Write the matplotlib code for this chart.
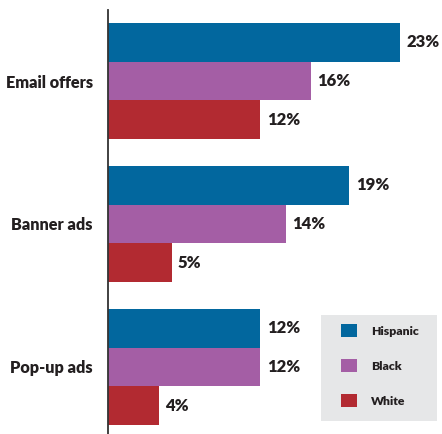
import matplotlib
matplotlib.use("Agg")
import matplotlib.pyplot as plt
from matplotlib.patches import Rectangle, Patch
import numpy as np

categories = ["Email offers", "Banner ads", "Pop-up ads"]
series = ["Hispanic", "Black", "White"]
values = {
    "Hispanic": [23, 19, 12],
    "Black": [16, 14, 12],
    "White": [12, 5, 4],
}
colors = {"Hispanic": "#02679e", "Black": "#a45ea5", "White": "#b22a31"}

plt.rcParams["font.family"] = ["Lato", "DejaVu Sans"]
text_color = "#231f20"

W, H, DPI = 442, 434, 100
fig = plt.figure(figsize=(W / DPI, H / DPI), dpi=DPI)
# axes box in pixels: left 108, right 438, top 10, bottom 434
ax = fig.add_axes([108 / W, 0 / H, (438 - 108) / W, (434 - 10) / H])

bar_h = 0.27
group_pos = np.arange(len(categories))
offsets = [-bar_h, 0, bar_h]

for s, off in zip(series, offsets):
    vals = values[s]
    bars = ax.barh(group_pos + off, vals, height=bar_h, color=colors[s],
                   label=s, linewidth=0)
    for b, v in zip(bars, vals):
        ax.text(b.get_width() + 0.5, b.get_y() + b.get_height() / 2, f"{v}%",
                va="center", ha="left", fontsize=12, fontweight="heavy",
                color=text_color)

ax.set_xlim(0, (438 - 108) / 12.7)
ax.set_ylim((434 - 81) / 143, -71 / 143)
ax.set_yticks(group_pos)
ax.set_yticklabels(categories, fontsize=11.7, fontweight="heavy", color=text_color)
ax.tick_params(axis="y", length=0, pad=11)
ax.set_xticks([])
for side in ["top", "right", "bottom"]:
    ax.spines[side].set_visible(False)
ax.spines["left"].set_color("#333333")
ax.spines["left"].set_linewidth(1.3)

# legend panel
panel = Rectangle((321 / W, 1 - 421 / H), (437 - 321) / W, (421 - 315) / H,
                  transform=fig.transFigure, facecolor="#e6e7e8",
                  edgecolor="none", zorder=2)
fig.patches.append(panel)
fs = 8.8
px = fs * DPI / 72
handles = [Patch(facecolor=colors[s], edgecolor="none") for s in series]
leg = fig.legend(handles, series, loc="upper left",
                 bbox_to_anchor=(341 / W, 1 - 324 / H),
                 frameon=False, prop={"weight": "heavy", "size": fs},
                 handlelength=16 / px, handleheight=16 / px,
                 labelspacing=(37.5 - 16) / px,
                 handletextpad=(371 - 357) / px,
                 borderpad=0, borderaxespad=0)
for t in leg.get_texts():
    t.set_color(text_color)
leg.set_zorder(3)

fig.savefig("out.png", dpi=DPI)
